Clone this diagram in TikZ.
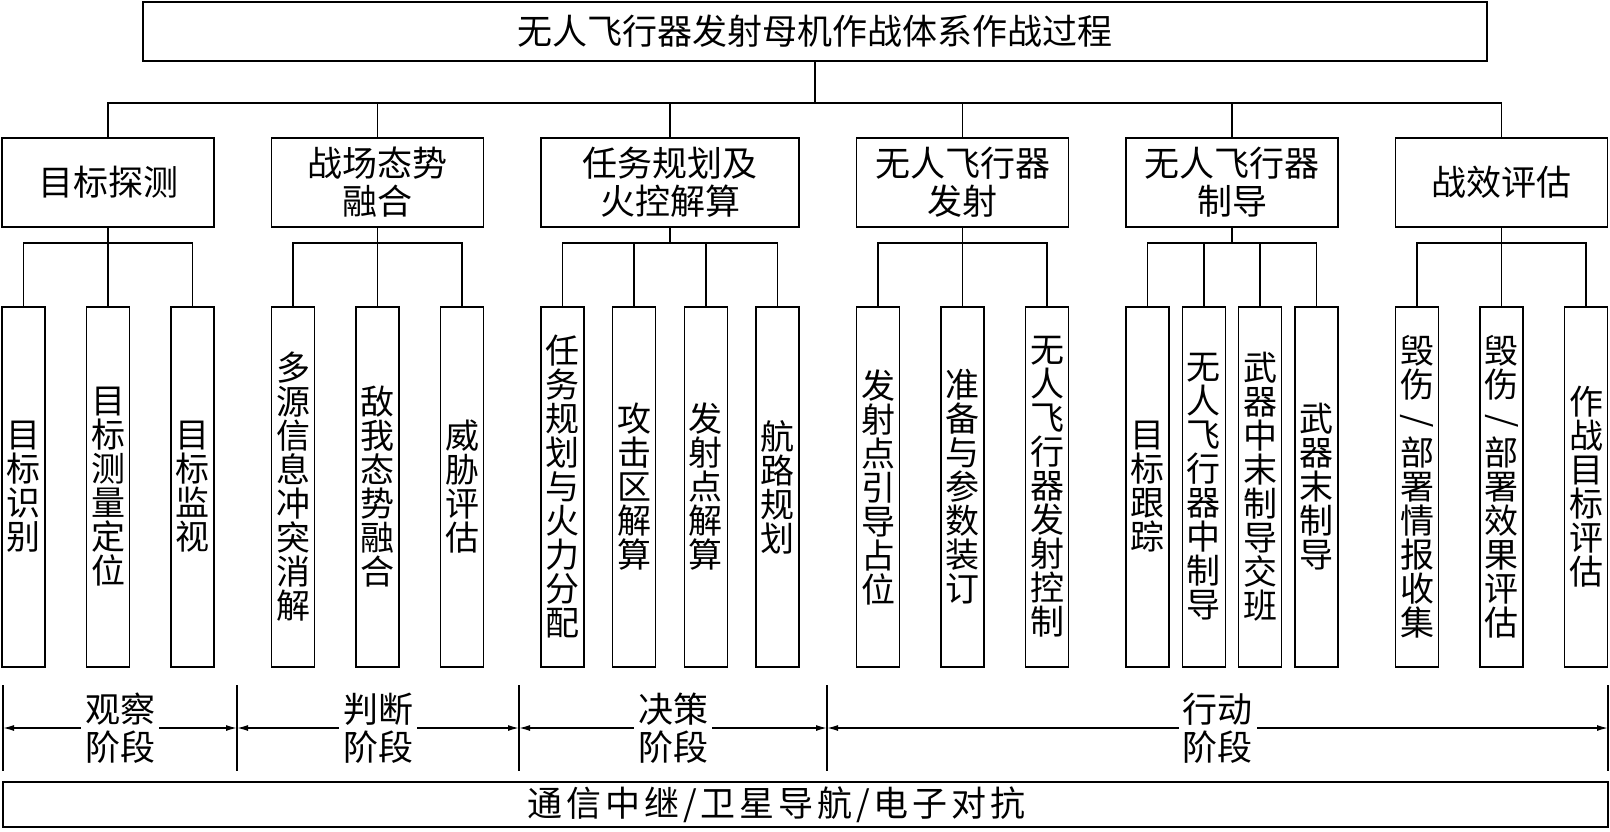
\documentclass[tikz,border=0pt]{standalone}
\usepackage{fontspec}
\usepackage{graphicx}
\usetikzlibrary{positioning,arrows.meta}
\newfontfamily\cjk{Noto Sans CJK SC}
\newfontfamily\cjkwide{Noto Sans CJK SC}[LetterSpace=11]
\newcommand{\ink}{black}
\newcommand{\paper}{white}
\newcommand{\vslash}{\rotatebox[origin=c]{-90}{/}}

\begin{document}
\begin{tikzpicture}[x=1pt, y=-1pt,
        plainbox/.style={draw=\ink, line width=1.4pt, outer sep=0pt, inner sep=0pt, align=center,
                font=\cjk\fontsize{35}{38}\selectfont},
        headbox/.style={plainbox, minimum width=212pt, minimum height=89pt},
        leafbox/.style={plainbox, minimum width=43pt, minimum height=360pt,
                font=\cjk\fontsize{34}{34}\selectfont},
        phaselabel/.style={fill=\paper, inner xsep=4pt, inner ysep=0pt, align=center,
                font=\cjk\fontsize{35}{38}\selectfont},
        linkline/.style={draw=\ink, line width=1.4pt},
        spanarrow/.style={linkline, {Latex[length=11pt,width=6pt]}-{Latex[length=11pt,width=6pt]}}]
        \useasboundingbox (0,0) rectangle (1610,832);
        \node[plainbox, minimum width=1344pt, minimum height=59pt] (title) at (815,31.5) {无人飞行器发射母机作战体系作战过程};
        % second row
        \node[headbox] (detect) at (108,182.5) {目标探测};
        \node[headbox, right=57.5pt of detect] (fuse) {战场态势\\融合};
        \node[headbox, right=57.5pt of fuse, minimum width=258pt] (plan) {任务规划及\\火控解算};
        \node[headbox, right=57.5pt of plan] (launch) {无人飞行器\\发射};
        \node[headbox, right=57.5pt of launch] (guide) {无人飞行器\\制导};
        \node[headbox, right=57.5pt of guide] (assess) {战效评估};
        % third row
        \node[leafbox, below right=80pt and 0pt of detect.south west] (d1) {目\\标\\识\\别};
        \node[leafbox, right=41.5pt of d1] (d2) {目\\标\\测\\量\\定\\位};
        \node[leafbox, right=41.5pt of d2] (d3) {目\\标\\监\\视};
        \node[leafbox, below right=80pt and 0pt of fuse.south west] (f1) {多\\源\\信\\息\\冲\\突\\消\\解};
        \node[leafbox, right=41.5pt of f1] (f2) {敌\\我\\态\\势\\融\\合};
        \node[leafbox, right=41.5pt of f2] (f3) {威\\胁\\评\\估};
        \node[leafbox, below right=80pt and 0pt of plan.south west] (p1) {任\\务\\规\\划\\与\\火\\力\\分\\配};
        \node[leafbox, right=28.67pt of p1] (p2) {攻\\击\\区\\解\\算};
        \node[leafbox, right=28.67pt of p2] (p3) {发\\射\\点\\解\\算};
        \node[leafbox, right=28.67pt of p3] (p4) {航\\路\\规\\划};
        \node[leafbox, below right=80pt and 0pt of launch.south west] (l1) {发\\射\\点\\引\\导\\占\\位};
        \node[leafbox, right=41.5pt of l1] (l2) {准\\备\\与\\参\\数\\装\\订};
        \node[leafbox, right=41.5pt of l2] (l3) {无\\人\\飞\\行\\器\\发\\射\\控\\制};
        \node[leafbox, below right=80pt and 0pt of guide.south west] (g1) {目\\标\\跟\\踪};
        \node[leafbox, right=13.33pt of g1] (g2) {无\\人\\飞\\行\\器\\中\\制\\导};
        \node[leafbox, right=13.33pt of g2] (g3) {武\\器\\中\\末\\制\\导\\交\\班};
        \node[leafbox, right=13.33pt of g3] (g4) {武\\器\\末\\制\\导};
        \node[leafbox, below right=80pt and 0pt of assess.south west] (a1) {毁\\伤\\\vslash\\部\\署\\情\\报\\收\\集};
        \node[leafbox, right=41.5pt of a1] (a2) {毁\\伤\\\vslash\\部\\署\\效\\果\\评\\估};
        \node[leafbox, right=41.5pt of a2] (a3) {作\\战\\目\\标\\评\\估};
        % bus lines
        \coordinate (bus) at (0,103);
        \coordinate (sub) at (0,243);
        \draw[linkline] (title) -- (title |- bus);
        \draw[linkline] (detect) -- (detect |- bus) -- (assess |- bus) -- (assess);
        \foreach \n in {fuse,plan,launch,guide}
                \draw[linkline] (\n) -- (\n |- bus);
        \foreach \p/\first/\last in {detect/d1/d3, fuse/f1/f3, plan/p1/p4, launch/l1/l3, guide/g1/g4, assess/a1/a3}
                \draw[linkline] (\p) -- (\p |- sub) (\first) -- (\first |- sub) -- (\last |- sub) -- (\last);
        \foreach \m in {d2,f2,p2,p3,l2,g2,g3,a2}
                \draw[linkline] (\m) -- (\m |- sub);
        % phases
        \coordinate (s0) at (3,728);
        \coordinate (s1) at (237,728);
        \coordinate (s2) at (519,728);
        \coordinate (s3) at (827,728);
        \coordinate (s4) at (1608,728);
        \foreach \i in {0,...,4}
                \draw[linkline, line width=1.2pt] ([yshift=43pt]s\i) -- ([yshift=-43pt]s\i);
        \draw[spanarrow] (s0) -- node[phaselabel] (observe) {观察\\阶段} (s1);
        \draw[spanarrow] (s1) -- node[phaselabel] (orient) {判断\\阶段} (s2);
        \draw[spanarrow] (s2) -- node[phaselabel] (decide) {决策\\阶段} (s3);
        \draw[spanarrow] (s3) -- node[phaselabel] (act) {行动\\阶段} (s4);
        %\node[plainbox, minimum width=1605pt, minimum height=45pt] (relay) at (805.5,804.5) {};
        \node[plainbox, minimum width=1605pt, minimum height=45pt, font=\cjkwide\fontsize{35}{38}\selectfont] (relay) at (805.5,804.5) {\hspace*{-58pt}通信中继/卫星导航/电子对抗};
\end{tikzpicture}
\end{document}
